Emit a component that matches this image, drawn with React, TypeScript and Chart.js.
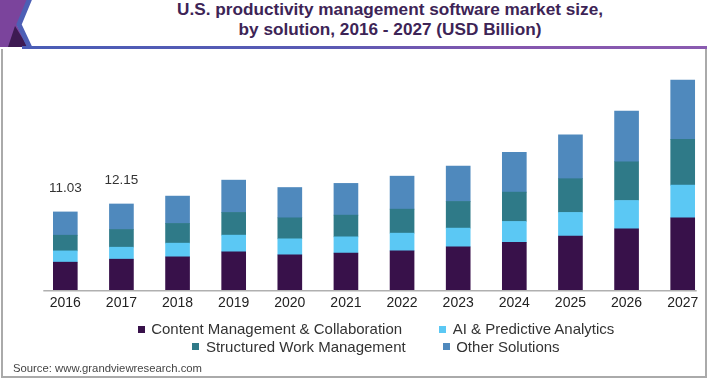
import React, { useEffect, useRef } from "react";
import { Chart, registerables } from "chart.js";

Chart.register(...registerables);

const years = ["2016", "2017", "2018", "2019", "2020", "2021", "2022", "2023", "2024", "2025", "2026", "2027"];
const contentMgmt = [3.95, 4.37, 4.70, 5.40, 4.98, 5.22, 5.54, 6.11, 6.73, 7.62, 8.65, 10.20];
const aiPredictive = [1.59, 1.69, 1.93, 2.36, 2.26, 2.30, 2.50, 2.64, 2.96, 3.34, 3.99, 4.61];
const structuredWork = [2.21, 2.50, 2.78, 3.20, 2.96, 3.06, 3.38, 3.76, 4.13, 4.75, 5.46, 6.44];
const otherSolutions = [3.28, 3.59, 3.85, 4.55, 4.27, 4.47, 4.65, 4.98, 5.60, 6.20, 7.15, 8.36];
const totalLabels = ["11.03", "12.15", "", "", "", "", "", "", "", "", "", ""];

const seriesNames = [
  "Content Management & Collaboration",
  "AI & Predictive Analytics",
  "Structured Work Management",
  "Other Solutions",
];
const seriesColors = ["#38114a", "#5bc8f4", "#2f7a88", "#4f89bd"];
const seriesData = [contentMgmt, aiPredictive, structuredWork, otherSolutions];
const legendRows = [[0, 1], [2, 3]];

const titleLines = [
  "U.S. productivity management software market size,",
  "by solution, 2016 - 2027 (USD Billion)",
];
const sourceText = "Source: www.grandviewresearch.com";

const FONT = "'Liberation Sans', Arial, Helvetica, sans-serif";

const overlayPlugin = {
  id: "overlayPlugin",
  afterDatasetsDraw(chart: any) {
    const { ctx, chartArea, scales } = chart;
    const y0 = scales.y.getPixelForValue(0);
    ctx.save();
    ctx.strokeStyle = "#b0b0b0";
    ctx.lineWidth = 1.5;
    ctx.beginPath();
    ctx.moveTo(chartArea.left - 22, y0 + 0.5);
    ctx.lineTo(chartArea.right + 14, y0 + 0.5);
    ctx.stroke();

    ctx.fillStyle = "#333333";
    ctx.font = `13.5px ${FONT}`;
    ctx.textAlign = "center";
    ctx.textBaseline = "middle";
    years.forEach((_, i) => {
      const label = totalLabels[i];
      if (!label) return;
      const total = seriesData.reduce((s, arr) => s + arr[i], 0);
      const x = scales.x.getPixelForValue(i);
      const y = scales.y.getPixelForValue(total);
      ctx.fillText(label, x, y - 24);
    });
    ctx.restore();
  },
};

export default function App() {
  const canvasRef = useRef<HTMLCanvasElement | null>(null);

  useEffect(() => {
    if (!canvasRef.current) return;
    const chart = new Chart(canvasRef.current, {
      type: "bar",
      data: {
        labels: years,
        datasets: seriesData.map((d, i) => ({
          label: seriesNames[i],
          data: d,
          backgroundColor: seriesColors[i],
          borderWidth: 0,
          barThickness: 24,
          clip: false as any,
        })),
      },
      options: {
        animation: false,
        responsive: false,
        maintainAspectRatio: false,
        layout: { padding: { left: 65.3, right: 24.3, top: 77.3, bottom: 62 } },
        plugins: {
          legend: { display: false },
          title: { display: false },
          tooltip: { enabled: false },
        },
        scales: {
          x: {
            stacked: true,
            offset: false,
            grid: { display: false, drawTicks: false },
            border: { display: false },
            ticks: {
              color: "#222222",
              font: { family: FONT, size: 14 },
              padding: 5,
              autoSkip: false,
              maxRotation: 0,
            },
          },
          y: { stacked: true, display: false, min: 0, max: 30 },
        },
      },
      plugins: [overlayPlugin],
    } as any);
    return () => chart.destroy();
  }, []);

  return (
    <div
      style={{
        position: "fixed",
        left: 0,
        top: 0,
        width: 707,
        height: 379,
        background: "#ffffff",
        overflow: "hidden",
        fontFamily: FONT,
      }}
    >
      <svg width={707} height={52} style={{ position: "absolute", left: 0, top: 0 }}>
        <defs>
          <linearGradient id="hdrLine" x1="0" y1="0" x2="1" y2="0">
            <stop offset="0" stopColor="#4a5db6" />
            <stop offset="0.45" stopColor="#5a5ab4" />
            <stop offset="0.7" stopColor="#8456ae" />
            <stop offset="1" stopColor="#8a5bb0" />
          </linearGradient>
        </defs>
        <polygon points="0,0 28,0 17,25 28,47 0,47" fill="#7b449c" />
        <polygon points="15,26 8,47 28,47" fill="#3d1a52" />
        <polyline points="30,-2 19,24.5 30,48" fill="none" stroke="#4d5fb5" strokeWidth={5} />
        <rect x={22} y={46} width={685} height={3} fill="url(#hdrLine)" />
      </svg>
      <div
        style={{
          position: "absolute",
          left: 1,
          top: 49,
          width: 706,
          height: 329,
          boxSizing: "border-box",
          border: "2px solid #aaaaaa",
          borderTop: "none",
        }}
      />
      <div
        style={{
          position: "absolute",
          left: 0,
          top: 0,
          width: 780,
          textAlign: "center",
          fontWeight: "bold",
          fontSize: 17.2,
          lineHeight: "19.5px",
          color: "#3d2456",
          whiteSpace: "nowrap",
        }}
      >
        {titleLines.map((t) => (
          <div key={t}>{t}</div>
        ))}
      </div>
      <canvas
        ref={canvasRef}
        width={707}
        height={379}
        style={{ position: "absolute", left: 0, top: 0, display: "block" }}
      />
      <div style={{ position: "absolute", left: 0, top: 320.2, width: 752 }}>
        {legendRows.map((row, ri) => (
          <div
            key={ri}
            style={{ display: "flex", justifyContent: "center", gap: 37, height: 17.7, alignItems: "center" }}
          >
            {row.map((si) => (
              <div key={si} style={{ display: "flex", alignItems: "center" }}>
                <span
                  style={{
                    display: "inline-block",
                    width: 7,
                    height: 7,
                    background: seriesColors[si],
                    marginRight: 6.5,
                  }}
                />
                <span style={{ fontSize: 15, color: "#333333", lineHeight: "17.7px", whiteSpace: "nowrap" }}>
                  {seriesNames[si]}
                </span>
              </div>
            ))}
          </div>
        ))}
      </div>
      <div
        style={{
          position: "absolute",
          left: 13,
          top: 362,
          fontSize: 11.3,
          color: "#444444",
          whiteSpace: "nowrap",
        }}
      >
        {sourceText}
      </div>
    </div>
  );
}
